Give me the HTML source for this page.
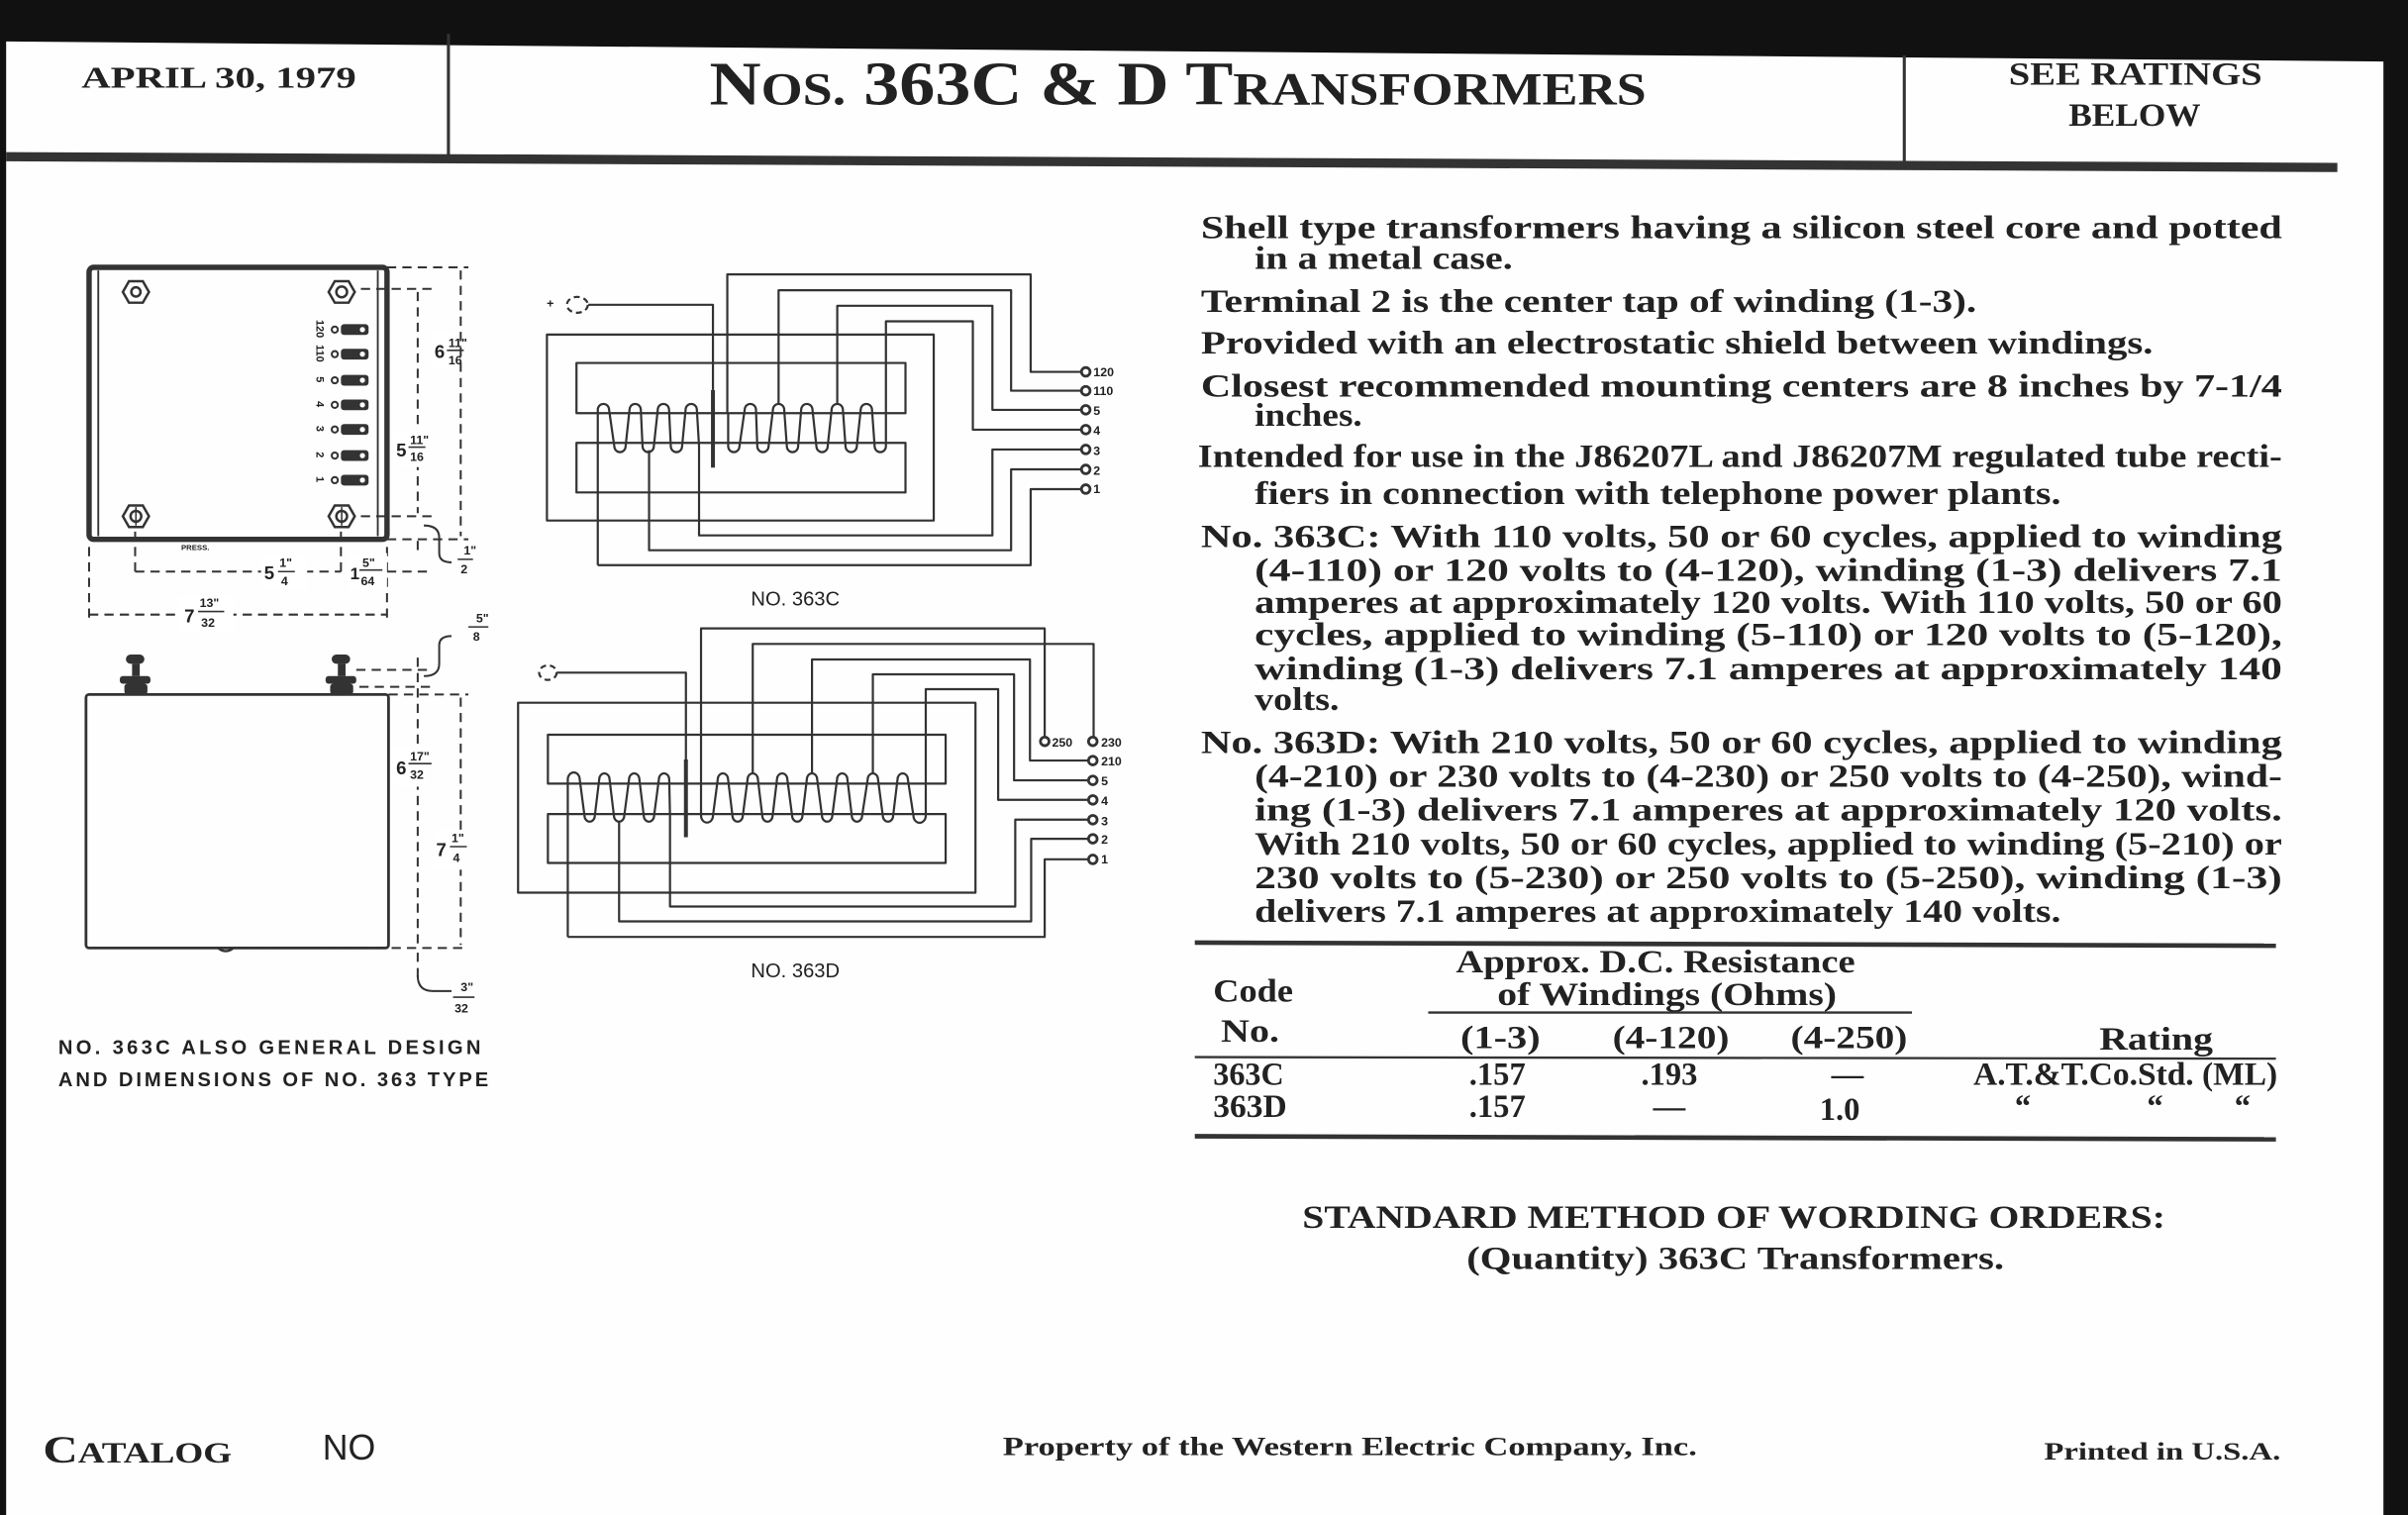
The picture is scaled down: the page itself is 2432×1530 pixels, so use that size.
<!DOCTYPE html>
<html><head><meta charset="utf-8"><style>
html,body{margin:0;padding:0;background:#111;}
svg{display:block;}
.s{font-family:"Liberation Serif",serif;font-weight:bold;fill:#222;}
.b{font-family:"Liberation Serif",serif;font-weight:bold;fill:#222;font-size:21px;}
.g{font-family:"Liberation Sans",sans-serif;font-weight:bold;fill:#222;}
.w{fill:none;stroke:#333;stroke-width:2.2;vector-effect:non-scaling-stroke;stroke-linejoin:round;}
.d{fill:none;stroke:#333;stroke-width:1.3;stroke-dasharray:6 4;}
.l{fill:none;stroke:#333;stroke-width:1.3;}
</style></head><body>
<svg width="2432" height="1530" viewBox="0 0 1568 986" preserveAspectRatio="none" xmlns="http://www.w3.org/2000/svg">
<rect width="1568" height="986" fill="#111"/>
<polygon points="4,27 1552,40 1552,986 4,986" fill="#fefefe"/>
<!-- header -->
<line x1="292" y1="22" x2="292" y2="102" stroke="#333" stroke-width="2"/>
<line x1="1240" y1="36" x2="1240" y2="108" stroke="#333" stroke-width="2"/>
<polygon points="4,99 1522,106 1522,112 4,105" fill="#333"/>
<text class="s" x="53" y="57" font-size="20" textLength="179" lengthAdjust="spacingAndGlyphs">APRIL 30, 1979</text>
<text class="s" x="462" y="68" textLength="610" lengthAdjust="spacingAndGlyphs"><tspan font-size="40">N</tspan><tspan font-size="30">OS.</tspan><tspan font-size="40"> 363C &amp; D T</tspan><tspan font-size="30">RANSFORMERS</tspan></text>
<text class="s" x="1308" y="55" font-size="21" textLength="165" lengthAdjust="spacingAndGlyphs">SEE RATINGS</text>
<text class="s" x="1347" y="82" font-size="21" textLength="86" lengthAdjust="spacingAndGlyphs">BELOW</text>

<!-- body text -->
<text class="b" x="782" y="155" textLength="704" lengthAdjust="spacingAndGlyphs">Shell type transformers having a silicon steel core and potted</text>
<text class="b" x="817" y="175" textLength="168" lengthAdjust="spacingAndGlyphs">in a metal case.</text>
<text class="b" x="782" y="203" textLength="505" lengthAdjust="spacingAndGlyphs">Terminal 2 is the center tap of winding (1-3).</text>
<text class="b" x="782" y="230" textLength="620" lengthAdjust="spacingAndGlyphs">Provided with an electrostatic shield between windings.</text>
<text class="b" x="782" y="258" textLength="704" lengthAdjust="spacingAndGlyphs">Closest recommended mounting centers are 8 inches by 7-1/4</text>
<text class="b" x="817" y="277" textLength="70" lengthAdjust="spacingAndGlyphs">inches.</text>
<text class="b" x="780" y="304" textLength="706" lengthAdjust="spacingAndGlyphs">Intended for use in the J86207L and J86207M regulated tube recti-</text>
<text class="b" x="817" y="328" textLength="525" lengthAdjust="spacingAndGlyphs">fiers in connection with telephone power plants.</text>
<text class="b" x="782" y="356" textLength="704" lengthAdjust="spacingAndGlyphs">No. 363C:  With 110 volts, 50 or 60 cycles, applied to winding</text>
<text class="b" x="817" y="378" textLength="669" lengthAdjust="spacingAndGlyphs">(4-110) or 120 volts to (4-120), winding (1-3) delivers 7.1</text>
<text class="b" x="817" y="399" textLength="669" lengthAdjust="spacingAndGlyphs">amperes at approximately 120 volts. With 110 volts, 50 or 60</text>
<text class="b" x="817" y="420" textLength="669" lengthAdjust="spacingAndGlyphs">cycles, applied to winding (5-110) or 120 volts to (5-120),</text>
<text class="b" x="817" y="442" textLength="669" lengthAdjust="spacingAndGlyphs">winding (1-3) delivers 7.1 amperes at approximately 140</text>
<text class="b" x="817" y="462" textLength="55" lengthAdjust="spacingAndGlyphs">volts.</text>
<text class="b" x="782" y="490" textLength="704" lengthAdjust="spacingAndGlyphs">No. 363D:  With 210 volts, 50 or 60 cycles, applied to winding</text>
<text class="b" x="817" y="512" textLength="669" lengthAdjust="spacingAndGlyphs">(4-210) or 230 volts to (4-230) or 250 volts to (4-250), wind-</text>
<text class="b" x="817" y="534" textLength="669" lengthAdjust="spacingAndGlyphs">ing (1-3) delivers 7.1 amperes at approximately 120 volts.</text>
<text class="b" x="817" y="556" textLength="669" lengthAdjust="spacingAndGlyphs">With 210 volts, 50 or 60 cycles, applied to winding (5-210) or</text>
<text class="b" x="817" y="578" textLength="669" lengthAdjust="spacingAndGlyphs">230 volts to (5-230) or 250 volts to (5-250), winding (1-3)</text>
<text class="b" x="817" y="600" textLength="525" lengthAdjust="spacingAndGlyphs">delivers 7.1 amperes at approximately 140 volts.</text>

<!-- table -->
<polygon points="778,612 1482,614 1482,617 778,615" fill="#333"/>
<text class="b" x="948" y="633" textLength="260" lengthAdjust="spacingAndGlyphs">Approx. D.C. Resistance</text>
<text class="b" x="975" y="654" textLength="221" lengthAdjust="spacingAndGlyphs">of Windings (Ohms)</text>
<line x1="930" y1="659" x2="1245" y2="659" stroke="#333" stroke-width="1.5"/>
<text class="b" x="790" y="652" textLength="52" lengthAdjust="spacingAndGlyphs">Code</text>
<text class="b" x="795" y="678" textLength="38" lengthAdjust="spacingAndGlyphs">No.</text>
<text class="b" x="951" y="682" textLength="52" lengthAdjust="spacingAndGlyphs">(1-3)</text>
<text class="b" x="1050" y="682" textLength="76" lengthAdjust="spacingAndGlyphs">(4-120)</text>
<text class="b" x="1166" y="682" textLength="76" lengthAdjust="spacingAndGlyphs">(4-250)</text>
<text class="b" x="1367" y="683" textLength="74" lengthAdjust="spacingAndGlyphs">Rating</text>
<line x1="778" y1="688" x2="1482" y2="689" stroke="#333" stroke-width="1.5"/>
<text class="b" x="790" y="706" textLength="46" lengthAdjust="spacingAndGlyphs">363C</text>
<text class="b" x="975" y="706" text-anchor="middle">.157</text>
<text class="b" x="1087" y="706" text-anchor="middle">.193</text>
<text class="b" x="1203" y="706" text-anchor="middle">—</text>
<text class="b" x="1285" y="706" font-size="16" textLength="198" lengthAdjust="spacingAndGlyphs">A.T.&amp;T.Co.Std. (ML)</text>
<text class="b" x="790" y="727" textLength="48" lengthAdjust="spacingAndGlyphs">363D</text>
<text class="b" x="975" y="727" text-anchor="middle">.157</text>
<text class="b" x="1087" y="727" text-anchor="middle">—</text>
<text class="b" x="1198" y="729" text-anchor="middle">1.0</text>
<text class="b" x="1312" y="727" font-size="16">“</text>
<text class="b" x="1398" y="727" font-size="16">“</text>
<text class="b" x="1455" y="727" font-size="16">“</text>
<polygon points="778,738 1482,740 1482,743 778,741" fill="#333"/>

<text class="b" x="848" y="799" font-size="22" textLength="562" lengthAdjust="spacingAndGlyphs">STANDARD METHOD OF WORDING ORDERS:</text>
<text class="b" x="955" y="826" textLength="350" lengthAdjust="spacingAndGlyphs">(Quantity) 363C Transformers.</text>

<!-- footer -->
<text class="s" x="28" y="952" textLength="123" lengthAdjust="spacingAndGlyphs"><tspan font-size="25">C</tspan><tspan font-size="19">ATALOG</tspan></text>
<text class="g" x="210" y="950" font-size="23" style="font-weight:normal">NO</text>
<text class="s" x="653" y="947" font-size="17" textLength="452" lengthAdjust="spacingAndGlyphs">Property of the Western Electric Company, Inc.</text>
<text class="s" x="1331" y="950" font-size="16" textLength="154" lengthAdjust="spacingAndGlyphs">Printed in U.S.A.</text>

<!-- left mechanical drawing -->
<rect x="58" y="174" width="194" height="177" rx="3" fill="none" stroke="#333" stroke-width="3.5"/>
<line x1="64" y1="176" x2="64" y2="349" stroke="#333" stroke-width="1.2"/>
<line x1="246" y1="176" x2="246" y2="349" stroke="#333" stroke-width="1.2"/>
<g fill="none" stroke="#333" stroke-width="1.6">
<polygon points="80,190 84,183 93,183 97,190 93,197 84,197"/><circle cx="88.5" cy="190" r="3"/>
<polygon points="214,190 218,183 227,183 231,190 227,197 218,197"/><circle cx="222.5" cy="190" r="3.5"/>
<polygon points="80,336 84,329 93,329 97,336 93,343 84,343"/><circle cx="88.5" cy="336" r="3.5"/>
<polygon points="214,336 218,329 227,329 231,336 227,343 218,343"/><circle cx="222.5" cy="336" r="3.5"/>
</g>
<line x1="88.5" y1="330" x2="88.5" y2="342" stroke="#333"/><line x1="222.5" y1="330" x2="222.5" y2="342" stroke="#333"/>
<g fill="#333">
<rect x="222" y="211" width="18" height="7" rx="2"/><rect x="222" y="227" width="18" height="7" rx="2"/>
<rect x="222" y="244" width="18" height="7" rx="2"/><rect x="222" y="260" width="18" height="7" rx="2"/>
<rect x="222" y="276" width="18" height="7" rx="2"/><rect x="222" y="293" width="18" height="7" rx="2"/>
<rect x="222" y="309" width="18" height="7" rx="2"/>
</g>
<g fill="#fff"><circle cx="236" cy="214.5" r="1.7"/><circle cx="236" cy="230.5" r="1.7"/><circle cx="236" cy="247.5" r="1.7"/><circle cx="236" cy="263.5" r="1.7"/><circle cx="236" cy="279.5" r="1.7"/><circle cx="236" cy="296.5" r="1.7"/><circle cx="236" cy="312.5" r="1.7"/></g>
<g fill="none" stroke="#333" stroke-width="1.3"><circle cx="218" cy="214.5" r="2"/><circle cx="218" cy="230.5" r="2"/><circle cx="218" cy="247.5" r="2"/><circle cx="218" cy="263.5" r="2"/><circle cx="218" cy="279.5" r="2"/><circle cx="218" cy="296.5" r="2"/><circle cx="218" cy="312.5" r="2"/></g>
<g class="g" font-size="7">
<text transform="translate(206,214) rotate(90)" text-anchor="middle">120</text>
<text transform="translate(206,230) rotate(90)" text-anchor="middle">110</text>
<text transform="translate(206,247) rotate(90)" text-anchor="middle">5</text>
<text transform="translate(206,263) rotate(90)" text-anchor="middle">4</text>
<text transform="translate(206,279) rotate(90)" text-anchor="middle">3</text>
<text transform="translate(206,296) rotate(90)" text-anchor="middle">2</text>
<text transform="translate(206,312) rotate(90)" text-anchor="middle">1</text>
</g>
<text class="g" x="118" y="358" font-size="5">PRESS.</text>
<!-- dims top -->
<line class="d" x1="252" y1="174" x2="305" y2="174"/>
<line class="d" x1="235" y1="188" x2="282" y2="188"/>
<line class="d" x1="235" y1="336" x2="282" y2="336"/>
<line class="d" x1="252" y1="351" x2="305" y2="351"/>
<line class="d" x1="300" y1="176" x2="300" y2="349"/>
<line class="d" x1="272" y1="190" x2="272" y2="334"/>
<line class="d" x1="272" y1="352" x2="272" y2="362"/>
<path class="l" d="M276,342 q10,0 10,8 v10 q0,6 8,6"/>
<g class="g">
<rect x="280" y="216" width="17" height="24" fill="#fff"/>
<text x="283" y="233" font-size="12">6</text><text x="292" y="226" font-size="8">11"</text><line x1="291" y1="228" x2="302" y2="228" stroke="#333"/><text x="292" y="237" font-size="8">16</text>
<rect x="256" y="280" width="18" height="24" fill="#fff"/>
<text x="258" y="297" font-size="12">5</text><text x="267" y="289" font-size="8">11"</text><line x1="266" y1="291" x2="277" y2="291" stroke="#333"/><text x="267" y="300" font-size="8">16</text>
<text x="302" y="361" font-size="8">1"</text><line x1="298" y1="364" x2="308" y2="364" stroke="#333"/><text x="300" y="373" font-size="8">2</text>
</g>
<line class="d" x1="58" y1="356" x2="58" y2="402"/>
<line class="d" x1="88" y1="346" x2="88" y2="374"/>
<line class="d" x1="222" y1="346" x2="222" y2="374"/>
<line class="d" x1="252" y1="356" x2="252" y2="402"/>
<line class="d" x1="88" y1="372" x2="222" y2="372"/>
<line class="d" x1="252" y1="372" x2="280" y2="372"/>
<line class="d" x1="58" y1="400" x2="252" y2="400"/>
<g class="g">
<rect x="170" y="362" width="30" height="22" fill="#fff"/>
<text x="172" y="377" font-size="12">5</text><text x="182" y="369" font-size="8">1"</text><line x1="181" y1="372" x2="192" y2="372" stroke="#333"/><text x="183" y="381" font-size="8">4</text>
<rect x="226" y="360" width="26" height="24" fill="#fff"/>
<text x="228" y="377" font-size="11">1</text><text x="236" y="369" font-size="8">5"</text><line x1="234" y1="371" x2="249" y2="371" stroke="#333"/><text x="235" y="381" font-size="8">64</text>
<rect x="116" y="388" width="36" height="24" fill="#fff"/>
<text x="120" y="405" font-size="12">7</text><text x="130" y="395" font-size="8">13"</text><line x1="129" y1="398" x2="146" y2="398" stroke="#333"/><text x="131" y="408" font-size="8">32</text>
</g>
<!-- bottom view -->
<rect x="56" y="452" width="197" height="165" rx="2" fill="none" stroke="#333" stroke-width="1.8"/>
<g fill="#333">
<rect x="82" y="426" width="12" height="6" rx="3"/><rect x="86" y="432" width="5" height="8"/><rect x="78" y="440" width="20" height="5" rx="2"/><rect x="81" y="445" width="15" height="7" rx="2"/>
<rect x="216" y="426" width="12" height="6" rx="3"/><rect x="220" y="432" width="5" height="8"/><rect x="212" y="440" width="20" height="5" rx="2"/><rect x="215" y="445" width="15" height="7" rx="2"/>
</g>
<path d="M142,617 q5,4 10,0" fill="none" stroke="#333" stroke-width="1.5"/>
<line class="d" x1="232" y1="436" x2="282" y2="436"/>
<line class="d" x1="234" y1="447" x2="282" y2="447"/>
<line class="d" x1="253" y1="452" x2="305" y2="452"/>
<line class="d" x1="155" y1="617" x2="305" y2="617"/>
<line class="d" x1="272" y1="428" x2="272" y2="615"/>
<line class="d" x1="300" y1="454" x2="300" y2="615"/>
<line class="d" x1="272" y1="620" x2="272" y2="640"/>
<path class="l" d="M276,440 q10,0 10,-8 v-12 q0,-6 8,-6"/>
<path class="l" d="M272,635 q0,10 10,10 h12"/>
<g class="g">
<rect x="256" y="486" width="22" height="26" fill="#fff"/>
<text x="258" y="504" font-size="12">6</text><text x="267" y="495" font-size="8">17"</text><line x1="266" y1="497" x2="281" y2="497" stroke="#333"/><text x="267" y="507" font-size="8">32</text>
<rect x="282" y="540" width="20" height="26" fill="#fff"/>
<text x="284" y="557" font-size="12">7</text><text x="294" y="548" font-size="8">1"</text><line x1="293" y1="551" x2="304" y2="551" stroke="#333"/><text x="295" y="561" font-size="8">4</text>
<text x="310" y="405" font-size="8">5"</text><line x1="305" y1="408" x2="318" y2="408" stroke="#333"/><text x="308" y="417" font-size="8">8</text>
<text x="300" y="645" font-size="8">3"</text><line x1="295" y1="649" x2="309" y2="649" stroke="#333"/><text x="296" y="659" font-size="8">32</text>
</g>
<text class="g" x="38" y="686" font-size="13" textLength="275" lengthAdjust="spacing">NO. 363C  ALSO  GENERAL  DESIGN</text>
<text class="g" x="38" y="707" font-size="13" textLength="280" lengthAdjust="spacing">AND DIMENSIONS OF NO. 363 TYPE</text>

<!-- 363C schematic -->
<g transform="matrix(0.283,0,0,0.215,323.6,161.4)">
<circle class="w" cx="185" cy="172" r="24" stroke-dasharray="6 4"/>
<path class="w" d="M210,172 H497 V430"/>
<line x1="497" y1="430" x2="497" y2="665" stroke="#333" stroke-width="4" vector-effect="non-scaling-stroke"/>
<rect class="w" x="115" y="262" width="890" height="563"/>
<rect class="w" x="183" y="348" width="757" height="152"/>
<rect class="w" x="183" y="590" width="757" height="150"/>
<path class="w" d="M232,960 V490 A13,18 0 0 1 258,490 L270,600 A13,18 0 0 0 296,600 L305,490 A13,18 0 0 1 331,490 L335,600 A13,18 0 0 0 361,600 L370,490 A13,18 0 0 1 396,490 L400,600 A13,18 0 0 0 426,600 L434,490 A13,18 0 0 1 460,490 L465,600 V870 H1140 V610 H1355"/>
<path class="w" d="M232,960 H1228 V730 H1355"/>
<path class="w" d="M350,612 V915 H1183 V670 H1355"/>
<path class="w" d="M530,500 V80 H1228 V375 H1355"/>
<path class="w" d="M532,500 V600 A13,18 0 0 0 558,600 L570,490 A13,18 0 0 1 596,490 L599,600 A13,18 0 0 0 625,600 L635,490 A13,18 0 0 1 661,490 L667,600 A13,18 0 0 0 693,600 L700,490 A13,18 0 0 1 726,490 L735,600 A13,18 0 0 0 761,600 L770,490 A13,18 0 0 1 796,490 L802,600 A13,18 0 0 0 828,600 L837,490 A13,18 0 0 1 863,490 L869,600 A13,18 0 0 0 895,600 V222 H1095 V550 H1355"/>
<path class="w" d="M648,472 V128 H1183 V432 H1355"/>
<path class="w" d="M783,472 V175 H1140 V490 H1355"/>
</g>
<g fill="#fff" stroke="#333" stroke-width="1.8">
<circle cx="707" cy="242" r="2.8"/><circle cx="707" cy="254.3" r="2.8"/><circle cx="707" cy="266.7" r="2.8"/><circle cx="707" cy="279.6" r="2.8"/><circle cx="707" cy="292.5" r="2.8"/><circle cx="707" cy="305.5" r="2.8"/><circle cx="707" cy="318.3" r="2.8"/>
</g>
<g class="g" font-size="8">
<text x="712" y="245">120</text><text x="712" y="257">110</text><text x="712" y="270">5</text><text x="712" y="283">4</text><text x="712" y="296">3</text><text x="712" y="309">2</text><text x="712" y="321">1</text>
</g>
<text class="g" x="489" y="394" font-size="13" style="font-weight:normal">NO. 363C</text>
<text class="g" x="356" y="200" font-size="8">+</text>

<!-- 363D schematic -->
<g transform="matrix(0.259,0,0,0.215,328.8,396.5)">
<circle class="w" cx="108" cy="192" r="22" stroke-dasharray="6 4"/>
<path class="w" d="M130,192 H455 V455"/>
<line x1="455" y1="455" x2="455" y2="690" stroke="#333" stroke-width="4" vector-effect="non-scaling-stroke"/>
<rect class="w" x="33" y="283" width="1150" height="575"/>
<rect class="w" x="108" y="380" width="1000" height="148"/>
<rect class="w" x="108" y="620" width="1000" height="148"/>
<path class="w" d="M158,992 V515 A13,18 0 0 1 188,515 L200,625 A13,18 0 0 0 226,625 L237,515 A13,18 0 0 1 263,515 L274,625 A13,18 0 0 0 300,625 L312,515 A13,18 0 0 1 338,515 L349,625 A13,18 0 0 0 375,625 L387,515 A13,18 0 0 1 413,515 L415,625 V900 H1283 V637 H1478"/>
<path class="w" d="M158,992 H1357 V757 H1478"/>
<path class="w" d="M287,640 V945 H1323 V695 H1478"/>
<path class="w" d="M1357,400 V58 H493 V625 A13,18 0 0 0 523,625 L535,515 A13,18 0 0 1 561,515 L572,625 A13,18 0 0 0 598,625 L610,515 A13,18 0 0 1 636,515 L647,625 A13,18 0 0 0 673,625 L684,515 A13,18 0 0 1 710,515 L722,625 A13,18 0 0 0 748,625 L759,515 A13,18 0 0 1 785,515 L797,625 A13,18 0 0 0 823,625 L835,515 A13,18 0 0 1 861,515 L872,625 A13,18 0 0 0 898,625 L912,515 A13,18 0 0 1 938,515 L950,625 A13,18 0 0 0 976,625 L987,515 A13,18 0 0 1 1013,515 L1027,625 A13,18 0 0 0 1058,625 V242 H1240 V577 H1478"/>
<path class="w" d="M623,497 V105 H1480 V400"/>
<path class="w" d="M772,497 V152 H1320 V458 H1478"/>
<path class="w" d="M925,497 V197 H1280 V518 H1478"/>
</g>
<g fill="#fff" stroke="#333" stroke-width="1.8">
<circle cx="680.3" cy="482.5" r="2.8"/>
<circle cx="711.6" cy="482.5" r="2.8"/><circle cx="711.6" cy="495" r="2.8"/><circle cx="711.6" cy="507.9" r="2.8"/><circle cx="711.6" cy="520.6" r="2.8"/><circle cx="711.6" cy="533.5" r="2.8"/><circle cx="711.6" cy="545.9" r="2.8"/><circle cx="711.6" cy="559.3" r="2.8"/>
</g>
<g class="g" font-size="8">
<text x="685" y="486">250</text><text x="717" y="486">230</text><text x="717" y="498">210</text><text x="717" y="511">5</text><text x="717" y="524">4</text><text x="717" y="537">3</text><text x="717" y="549">2</text><text x="717" y="562">1</text>
</g>
<text class="g" x="489" y="636" font-size="13" style="font-weight:normal">NO. 363D</text>
</svg>
</body></html>
